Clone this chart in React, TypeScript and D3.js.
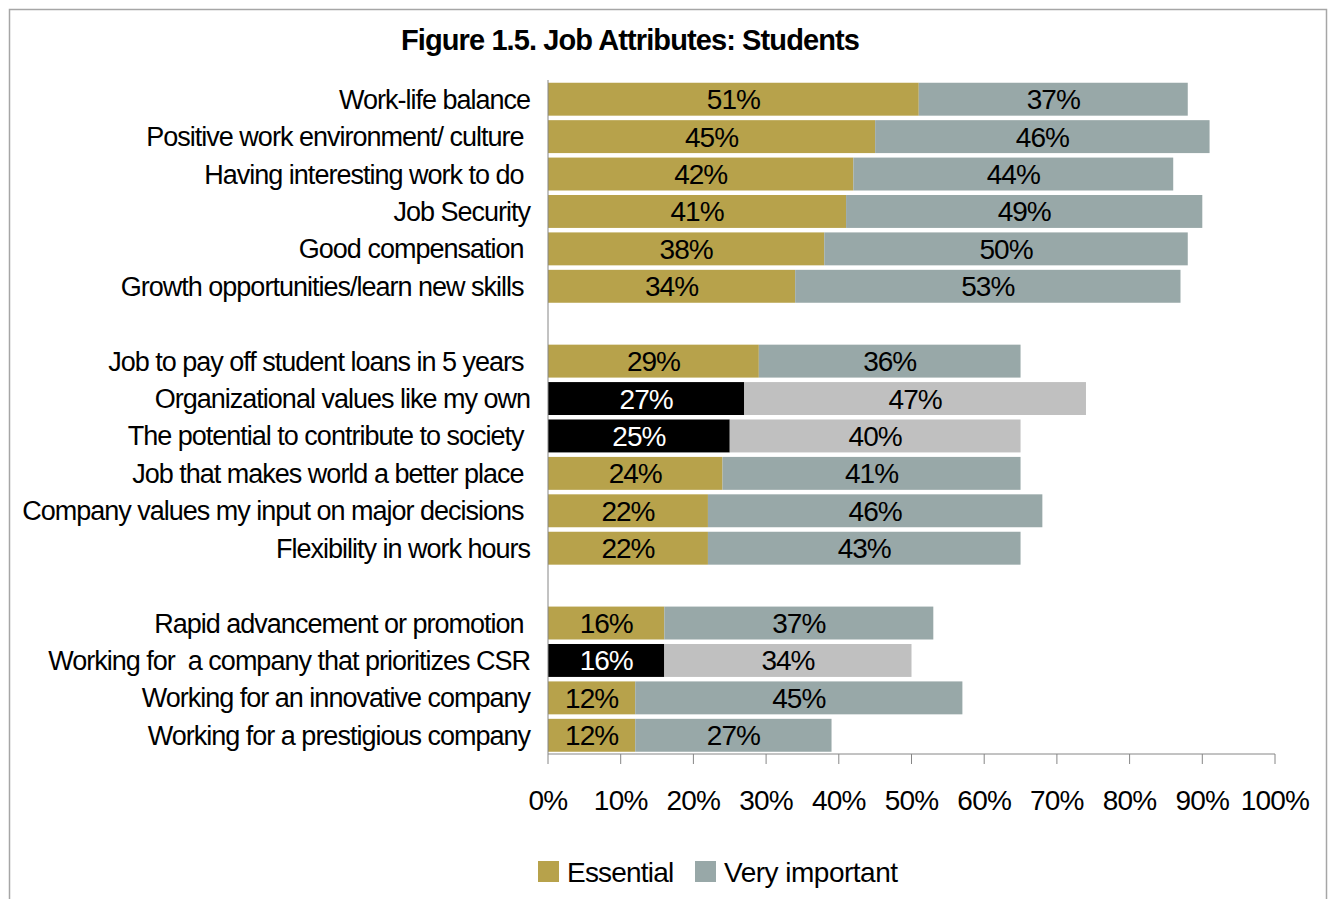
import React from "react";
import * as d3 from "d3";

const categories = [
  "Work-life balance",
  "Positive work environment/ culture ",
  "Having interesting work to do ",
  "Job Security",
  "Good compensation ",
  "Growth opportunities/learn new skills ",
  "Job to pay off student loans in 5 years ",
  "Organizational values like my own",
  "The potential to contribute to society ",
  "Job that makes world a better place ",
  "Company values my input on major decisions ",
  "Flexibility in work hours",
  "Rapid advancement or promotion ",
  "Working for  a company that prioritizes CSR",
  "Working for an innovative company",
  "Working for a prestigious company",
];
const groupOf = [0, 0, 0, 0, 0, 0, 1, 1, 1, 1, 1, 1, 2, 2, 2, 2];
const essential = [51, 45, 42, 41, 38, 34, 29, 27, 25, 24, 22, 22, 16, 16, 12, 12];
const veryImportant = [37, 46, 44, 49, 50, 53, 36, 47, 40, 41, 46, 43, 37, 34, 45, 27];
const highlighted = [false, false, false, false, false, false, false, true, true, false, false, false, false, true, false, false];
const ticks = [0, 10, 20, 30, 40, 50, 60, 70, 80, 90, 100];
const seriesNames = ["Essential", "Very important"];
const title = "Figure 1.5. Job Attributes: Students";

const COL_ESS = "#B7A24B";
const COL_VI = "#98A8A8";
const COL_ESS_H = "#000000";
const COL_VI_H = "#C0C0C0";
const FONT = "'Liberation Sans', Arial, sans-serif";

export default function App() {
  const W = 1332, H = 899;
  const slotKeys: string[] = [];
  categories.forEach((c, i) => {
    if (i > 0 && groupOf[i] !== groupOf[i - 1]) slotKeys.push("__gap" + groupOf[i]);
    slotKeys.push(c);
  });
  const x = d3.scaleLinear().domain([0, 100]).range([548, 1275]);
  const y = d3.scaleBand<string>().domain(slotKeys).range([80.5, 754]).paddingInner(0.12).paddingOuter(0.06);
  const bh = y.bandwidth();
  const axisY = 754;
  const labelStyle: React.CSSProperties = { whiteSpace: "pre" };

  return (
    <div style={{ position: "absolute", left: 0, top: 0, width: W, height: H, background: "#fff" }}>
      <svg width={W} height={H} style={{ display: "block", fontFamily: FONT }}>
        <rect x={9.5} y={9.5} width={1317} height={940} fill="#fff" stroke="#A6A6A6" strokeWidth={1.5} />
        <text x={630} y={50} textAnchor="middle" fontSize={29} fontWeight="bold" letterSpacing={-0.9} fill="#000">
          {title}
        </text>
        {categories.map((c, i) => {
          const y0 = y(c)!;
          const hi = highlighted[i];
          const e = essential[i], v = veryImportant[i];
          return (
            <g key={c}>
              <text x={530} y={y0 + bh / 2 + 9.5} textAnchor="end" fontSize={27} letterSpacing={-1} style={labelStyle} fill="#000">
                {c}
              </text>
              <rect x={x(0)} y={y0} width={x(e) - x(0)} height={bh} fill={hi ? COL_ESS_H : COL_ESS} />
              <rect x={x(e)} y={y0} width={x(e + v) - x(e)} height={bh} fill={hi ? COL_VI_H : COL_VI} />
              <text x={(x(0) + x(e)) / 2} y={y0 + bh / 2 + 10} textAnchor="middle" fontSize={28} letterSpacing={-1} fill={hi ? "#fff" : "#000"}>
                {e}%
              </text>
              <text x={(x(e) + x(e + v)) / 2} y={y0 + bh / 2 + 10} textAnchor="middle" fontSize={28} letterSpacing={-1} fill="#000">
                {v}%
              </text>
            </g>
          );
        })}
        <line x1={x(0)} x2={x(0)} y1={80} y2={axisY} stroke="#868686" strokeWidth={1} />
        <line x1={x(0)} x2={x(100)} y1={axisY} y2={axisY} stroke="#868686" strokeWidth={1} />
        {ticks.map((t) => (
          <g key={t}>
            <line x1={x(t)} x2={x(t)} y1={axisY} y2={axisY + 10} stroke="#868686" strokeWidth={1} />
            <text x={x(t)} y={axisY + 56} textAnchor="middle" fontSize={28} letterSpacing={-0.8} fill="#000">
              {t}%
            </text>
          </g>
        ))}
        <g>
          <rect x={538} y={861} width={21} height={21} fill={COL_ESS} />
          <text x={567} y={882} fontSize={28} letterSpacing={-0.8} fill="#000">{seriesNames[0]}</text>
          <rect x={695} y={861} width={21} height={21} fill={COL_VI} />
          <text x={724} y={882} fontSize={28} letterSpacing={-0.5} fill="#000">{seriesNames[1]}</text>
        </g>
      </svg>
    </div>
  );
}
